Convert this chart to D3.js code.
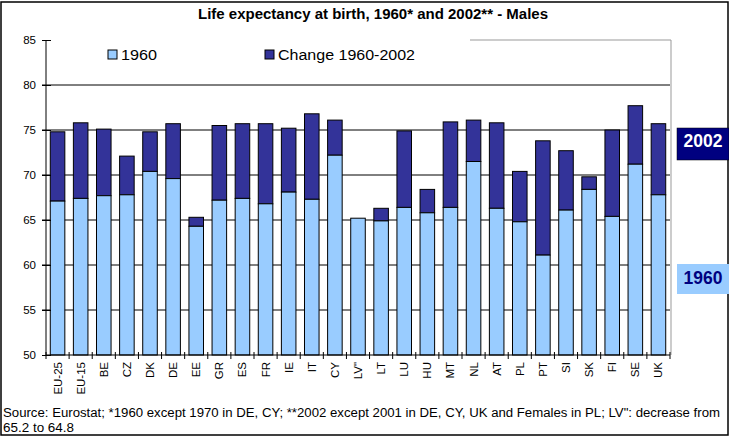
<!DOCTYPE html>
<html><head><meta charset="utf-8">
<script src="https://cdn.jsdelivr.net/npm/d3@7"></script>
<style>body{margin:0;background:#fff}svg{display:block;font-family:Arial,"Liberation Sans",sans-serif}</style>
</head><body><svg id="c" width="729" height="437"></svg>
<script>
const categories = ["EU-25","EU-15","BE","CZ","DK","DE","EE","GR","ES","FR","IE","IT","CY","LV\"","LT","LU","HU","MT","NL","AT","PL","PT","SI","SK","FI","SE","UK"];
const values1960 = [67.1,67.4,67.7,67.8,70.4,69.6,64.3,67.2,67.4,66.8,68.1,67.3,72.2,65.2,64.9,66.4,65.8,66.4,71.5,66.3,64.8,61.1,66.1,68.4,65.4,71.2,67.8];
const values2002 = [74.8,75.8,75.1,72.1,74.8,75.7,65.3,75.5,75.7,75.7,75.2,76.8,76.1,65.2,66.3,74.9,68.4,75.9,76.1,75.8,70.4,73.8,72.7,69.8,75.0,77.7,75.7];
const yTicks = [50,55,60,65,70,75,80,85];
const seriesNames = ["1960","Change 1960-2002"];
const colors = ["#99CCFF","#333399"];

const svg = d3.select("#c");
const L = 46, R = 670, T = 40, B = 355;
const x = d3.scaleBand().domain(categories).range([L, R]).paddingInner(0.37).paddingOuter(0.185);
const y = d3.scaleLinear().domain([50, 85]).range([B, T]);

// frame
svg.append("rect").attr("x",1).attr("y",2).attr("width",727).attr("height",433)
  .attr("fill","none").attr("stroke","#000").attr("stroke-width",1.5);

// gray partial border
svg.append("path").attr("d",`M${470},${T}H${R+1}V${B}`).attr("fill","none").attr("stroke","#999").attr("stroke-width",1);

// grid lines
svg.append("g").selectAll("line").data(yTicks.filter(d=>d>50 && d<85)).join("line")
  .attr("x1",L-4).attr("x2",R).attr("y1",d=>y(d)).attr("y2",d=>y(d))
  .attr("stroke","#000").attr("stroke-width",1);

// bars
const data = categories.map((c,i)=>({c, a: values1960[i], b: Math.max(values2002[i], values1960[i])}));
const g = svg.append("g");
g.selectAll("rect.dk").data(data.filter(d=>d.b>d.a)).join("rect")
  .attr("x",d=>x(d.c)).attr("width",x.bandwidth())
  .attr("y",d=>y(d.b)).attr("height",d=>y(d.a)-y(d.b))
  .attr("fill",colors[1]).attr("stroke","#000").attr("stroke-width",1);
g.selectAll("rect.lt").data(data).join("rect")
  .attr("x",d=>x(d.c)).attr("width",x.bandwidth())
  .attr("y",d=>y(d.a)).attr("height",d=>y(50)-y(d.a))
  .attr("fill",colors[0]).attr("stroke","#000").attr("stroke-width",1);

// y axis
const yAxis = d3.axisLeft(y).tickValues(yTicks).tickSize(4).tickPadding(6);
const ya = svg.append("g").attr("transform",`translate(${L},0)`).call(yAxis);
ya.select(".domain").attr("d",`M0,${T}V${B}`).attr("stroke","#000");
ya.selectAll(".tick line").attr("x1",-4).attr("x2",5).attr("stroke","#000");
ya.selectAll("text").attr("font-size",11.5).attr("fill","#000").attr("font-family","Arial, 'Liberation Sans', sans-serif");

// x axis
const xa = svg.append("g").attr("transform",`translate(0,${B})`);
xa.append("line").attr("x1",L).attr("x2",R).attr("stroke","#000");
const bounds = d3.range(categories.length+1).map(i=>L + i*x.step());
xa.selectAll("line.t").data(bounds).join("line").attr("class","t")
  .attr("x1",d=>d).attr("x2",d=>d).attr("y1",-3).attr("y2",4).attr("stroke","#000");
xa.selectAll("text").data(categories).join("text")
  .attr("transform",d=>`translate(${x(d)+x.bandwidth()/2+4},7) rotate(-90)`)
  .attr("text-anchor","end").attr("font-size",11.5).text(d=>d);

// title
svg.append("text").attr("x",198).attr("y",19)
  .attr("font-weight","bold").attr("font-size",14).attr("textLength",350).attr("lengthAdjust","spacingAndGlyphs")
  .text("Life expectancy at birth, 1960* and 2002** - Males");

// legend
const leg = [{x:108, w:36},{x:265, w:137}];
leg.forEach((p,i)=>{
  svg.append("rect").attr("x",p.x).attr("y",50).attr("width",9).attr("height",9)
    .attr("fill",colors[i]).attr("stroke","#000").attr("stroke-width",1);
  svg.append("text").attr("x",p.x+13).attr("y",60).attr("font-size",14)
    .attr("textLength",p.w).attr("lengthAdjust","spacingAndGlyphs").text(seriesNames[i]);
});

// right labels
svg.append("rect").attr("x",677).attr("y",128).attr("width",52).attr("height",32).attr("fill","#000080").attr("stroke","#000").attr("stroke-width",0.5);
svg.append("text").attr("x",703).attr("y",147).attr("text-anchor","middle").attr("fill","#fff")
  .attr("font-weight","bold").attr("font-size",17.5).text("2002");
svg.append("rect").attr("x",677).attr("y",264).attr("width",52).attr("height",30).attr("fill","#99CCFF");
svg.append("text").attr("x",703).attr("y",284).attr("text-anchor","middle").attr("fill","#000080")
  .attr("font-weight","bold").attr("font-size",17.5).text("1960");

// footer
svg.append("text").attr("x",3).attr("y",417).attr("font-size",12.5)
  .attr("textLength",717).attr("lengthAdjust","spacingAndGlyphs")
  .text("Source: Eurostat; *1960 except 1970 in DE, CY; **2002 except 2001 in DE, CY, UK and Females in PL; LV\": decrease from");
svg.append("text").attr("x",3).attr("y",432).attr("font-size",12.5).attr("textLength",71).attr("lengthAdjust","spacingAndGlyphs").text("65.2 to 64.8");
</script></body></html>
